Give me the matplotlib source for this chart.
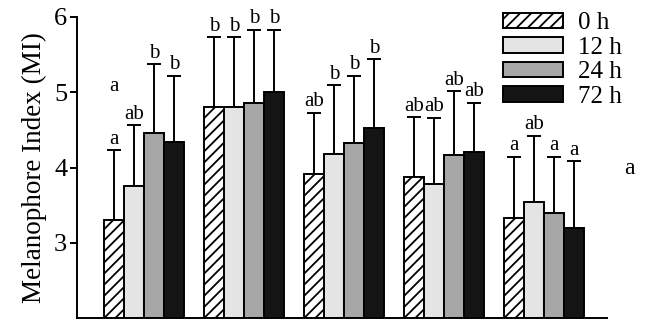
import matplotlib
matplotlib.use("Agg")
import matplotlib.pyplot as plt
import numpy as np

plt.rcParams["font.family"] = ["Liberation Serif", "DejaVu Serif"]
plt.rcParams["hatch.linewidth"] = 1.3

# data
series = ["0 h", "12 h", "24 h", "72 h"]
means = [
    [3.30, 4.80, 3.92, 3.87, 3.33],  # 0 h
    [3.76, 4.80, 4.18, 3.78, 3.54],  # 12 h
    [4.46, 4.86, 4.32, 4.17, 3.40],  # 24 h
    [4.34, 5.00, 4.53, 4.20, 3.19],  # 72 h
]
upper = [
    [4.23, 5.73, 4.73, 4.67, 4.14],
    [4.56, 5.73, 5.09, 4.66, 4.42],
    [5.37, 5.83, 5.22, 5.01, 4.14],
    [5.22, 5.83, 5.44, 4.86, 4.08],
]
letters = [
    ["a", "b", "ab", "ab", "a"],
    ["ab", "b", "b", "ab", "ab"],
    ["b", "b", "b", "ab", "a"],
    ["b", "b", "b", "ab", "a"],
]
yticks = [3, 4, 5, 6]

fills = ["white", "#e4e4e4", "#a6a6a6", "#141414"]
hatches = ["///", None, None, None]

fig = plt.figure(figsize=(6.47, 3.2), dpi=100)
ax = fig.add_axes([0.119, 0.006, 0.819, 0.941])

groups = np.arange(len(means[0]))
width = 0.2
for i, name in enumerate(series):
    x = groups + (i - 1.5) * width
    m = np.array(means[i])
    err = np.array(upper[i]) - m
    ax.bar(x, m - 2, width=width, bottom=2, color=fills[i], edgecolor="black",
           linewidth=1.4, hatch=hatches[i], label=name, zorder=2)
    ax.errorbar(x, m, yerr=[np.zeros_like(err), err], fmt="none", ecolor="black",
                elinewidth=1.4, capsize=5, capthick=1.4, zorder=1)
    for xi, top, lab in zip(x, upper[i], letters[i]):
        ax.text(xi, top + 0.02, lab, ha="center", va="bottom", fontsize=15)

# stray letters in the original figure
ax.text(groups[0] - 1.5 * width, 4.95, "a", ha="center", va="bottom", fontsize=15)
fig.text(0.972, 0.475, "a", ha="center", va="center", fontsize=17)

ax.set_xlim(-0.67, 4.63)
ax.set_ylim(2, 6)
ax.set_yticks(yticks)
ax.set_yticklabels([str(t) for t in yticks], fontsize=19)
ax.tick_params(axis="y", direction="out", length=5, width=1.4, pad=2)
ax.set_xticks([])
ax.spines["top"].set_visible(False)
ax.spines["right"].set_visible(False)
ax.spines["left"].set_linewidth(1.4)
ax.spines["bottom"].set_linewidth(1.4)
ax.set_ylabel("Melanophore Index (MI)", fontsize=19.5, labelpad=5)

ax.legend(loc="upper right", bbox_to_anchor=(1.07, 1.09), frameon=False, fontsize=18,
          handlelength=2.4, handleheight=0.6, labelspacing=0.1, handletextpad=0.6)

fig.savefig("out.png", dpi=100)
